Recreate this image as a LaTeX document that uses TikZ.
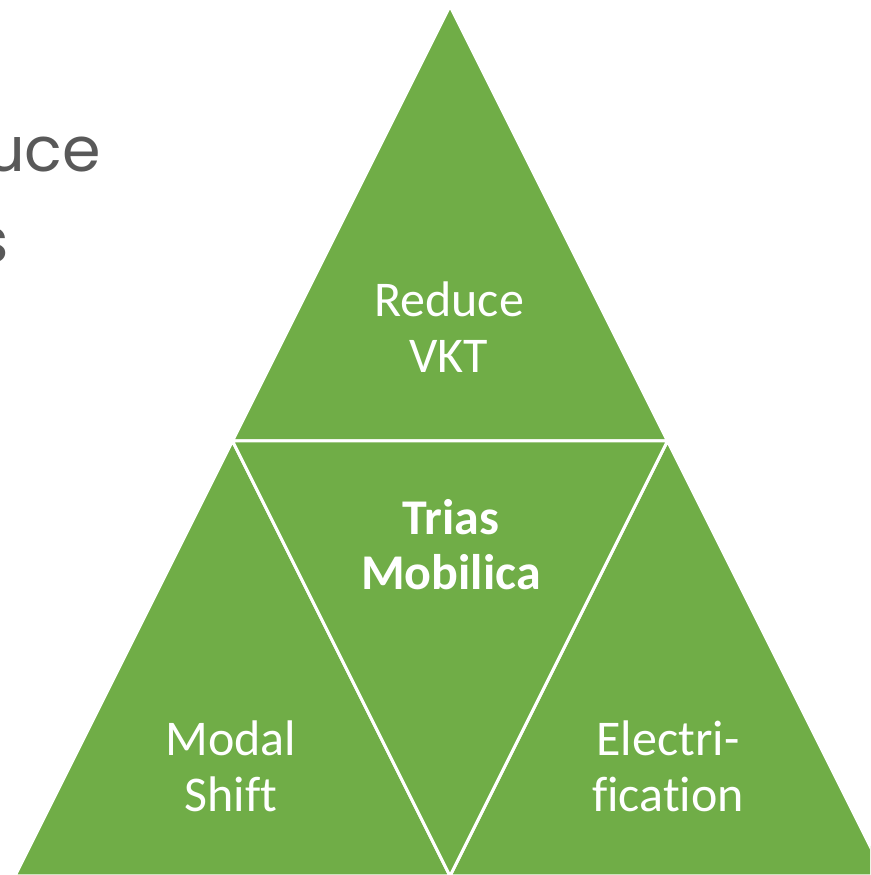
\documentclass[tikz,border=0pt]{standalone}
\usepackage{fontspec}
\setmainfont{Carlito}[Ligatures={NoCommon}]
\newfontfamily\greyfont{Poppins}
\definecolor{trigreen}{HTML}{70AD47}
\definecolor{slidegrey}{HTML}{595959}
\begin{document}
\begin{tikzpicture}[x=1pt,y=1pt,
  tri/.style={fill=trigreen,draw=white,line width=3pt,line join=miter},
  lbl/.style={text=white,align=center,font=\fontsize{50}{56}\selectfont,anchor=base,inner sep=0pt},
  bglbl/.style={text=slidegrey,font=\greyfont\fontsize{62}{70}\selectfont,anchor=base east,inner sep=0pt}]
\useasboundingbox (0,0) rectangle (870,875);
\clip (0,0) rectangle (870,875);
\fill[white] (0,0) rectangle (870,875);
% background slide text (cut off at the left edge, as in the reference)
\node[bglbl] (bgone) at (101,703) {uce};
\node[bglbl] (bgtwo) at (9,612) {s};
% corners
\coordinate (apex) at (450,869);
\coordinate (ml) at (232.5,434);
\coordinate (mr) at (667.5,434);
\coordinate (bl) at (15,-1);
\coordinate (bm) at (450,-1);
\coordinate (br) at (885,-1);
% triangles
\filldraw[tri] (apex) -- (ml) -- (mr) -- cycle;
\filldraw[tri] (ml) -- (bl) -- (bm) -- cycle;
\filldraw[tri] (mr) -- (bm) -- (br) -- cycle;
\filldraw[tri] (ml) -- (mr) -- (bm) -- cycle;
% labels (anchor = baseline of the last line)
\node[lbl] (reduce) at (449,502) {Reduce\\VKT};
\node[lbl,font=\bfseries\fontsize{50}{55}\selectfont] (trias) at (451,285) {Trias\\Mobilica};
\node[lbl] (modal) at (231,63) {Modal\\Shift};
\node[lbl] (electri) at (668,63) {Electri-\\fication};
\end{tikzpicture}
\end{document}
